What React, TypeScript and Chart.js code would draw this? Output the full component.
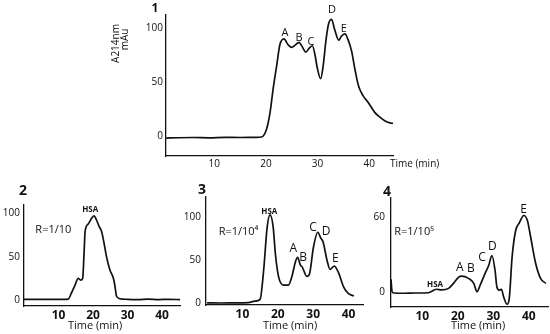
import React, { useEffect, useRef } from 'react';
import { Chart, registerables } from 'chart.js';
Chart.register(...registerables);

// ---- Panel 1 (full sample) ----
const X1 = [0.7, 3, 6, 9, 12, 15, 18, 19.2, 20.1, 20.8, 21.4, 22.1, 22.7, 23.5, 24.3, 25.0, 25.6, 26.4, 27.1, 27.7, 28.4, 29.0, 29.5, 29.9, 30.6, 31.1, 31.6, 32.1, 32.7, 33.3, 34.1, 34.6, 35.3, 35.9, 36.6, 37.2, 37.9, 38.8, 39.8, 41.1, 42, 43, 44, 44.6];
const Y1 = [-1.5, -1.2, -1.0, -1.3, -0.9, -1.0, -0.8, -0.5, 6.3, 21.9, 43.8, 65.6, 84.3, 89.7, 84.3, 81.9, 83.8, 86.6, 81.9, 77.5, 81.3, 83.4, 75, 64.1, 53.1, 65.6, 87.5, 103, 107.8, 98.4, 88.5, 92.2, 94.4, 89, 78.2, 62.5, 46.9, 37.5, 31.3, 21.9, 18, 14.5, 12.5, 12];

// ---- Panel 2 (R=1/10) ----
const X2 = [0, 4, 8, 12, 12.8, 13.7, 14.8, 15.7, 16.4, 17.0, 17.4, 17.7, 18.6, 19.6, 20.3, 21.0, 21.8, 22.5, 23.2, 23.9, 24.9, 25.9, 26.3, 26.8, 27.8, 30, 33, 36, 39, 42, 45.2];
const Y2 = [0.8, 0.8, 0.8, 0.8, 1, 7.7, 17.3, 25, 23, 25, 54, 79, 87.7, 94.2, 97, 92.3, 84.6, 78.8, 65.4, 50, 34.6, 25, 17.3, 4.6, 1.5, 0.8, 0.5, 1, 0.5, 0.8, 0.5];

// ---- Panel 3 (R=1/10^4) ----
const X3 = [0, 4, 8, 11.7, 13.5, 15, 16, 17, 17.8, 18.7, 19.3, 20.2, 21.6, 23, 24, 25.0, 25.6, 26.4, 26.9, 28.2, 28.9, 30.1, 31.3, 32.2, 32.8, 33.9, 34.8, 35.6, 36, 37.2, 38.6, 40, 41.5];
const Y3 = [0.5, 0.3, 0.5, 0.8, 2.5, 4.6, 38, 88, 102, 88, 58, 31, 21, 21, 31, 48, 53, 44, 42, 31, 33, 65, 82, 75, 71, 50, 39, 42, 43, 35, 19, 11, 8.5];

// ---- Panel 4 (R=1/10^5) ----
const X4 = [1.2, 1.5, 2.0, 5, 8, 11.7, 14, 15.5, 17.4, 18.8, 20.2, 21.1, 23, 24.5, 25.4, 26.3, 27.7, 28.7, 29.6, 30.5, 31, 31.7, 32.3, 32.9, 33.9, 34.5, 35.3, 36.3, 37.3, 38.6, 39.6, 40.5, 41.9, 43.3, 44.8];
const Y4 = [10, 0, -1, -1.2, -1, -0.8, 2, 1.5, 2.7, 6.7, 11.5, 12.5, 10.7, 6.7, 0, 5.3, 14.7, 21, 29, 17, 4, 1.3, 2, -4, -10, -5.3, 28, 49, 55, 61, 57, 44, 23, 10.7, 6.7];

const X_TICKS = [10, 20, 30, 40];
const Y_TICKS_1 = [0, 50, 100];
const Y_TICKS_2 = [0, 50, 100];
const Y_TICKS_3 = [0, 50, 100];
const Y_TICKS_4 = [0, 60];

const TXT = "'Open Sans', sans-serif";
const NUM = "'Liberation Sans Narrow', 'Open Sans', sans-serif";

type Note = { t: string; x: number; y: number; font: string; rot?: number; align?: CanvasTextAlign };

const NOTES_1: Note[] = [
  { t: '1', x: -1.5, y: 117.3, font: `bold 12px ${TXT}` },
  { t: 'A214nm', x: -8.9, y: 85.5, font: `10px ${TXT}`, rot: -Math.PI / 2 },
  { t: 'mAu', x: -7.2, y: 89.3, font: `10px ${TXT}`, rot: -Math.PI / 2 },
  { t: 'A', x: 23.7, y: 94.9, font: `11px ${TXT}` },
  { t: 'B', x: 26.4, y: 91.1, font: `11px ${TXT}` },
  { t: 'C', x: 28.7, y: 87.4, font: `11px ${TXT}` },
  { t: 'D', x: 32.8, y: 116.3, font: `11px ${TXT}` },
  { t: 'E', x: 35.1, y: 98.6, font: `11px ${TXT}` },
  { t: 'Time (min)', x: 44.0, y: -25.5, font: `10px ${TXT}`, align: 'left' },
];
const NOTES_2: Note[] = [
  { t: '2', x: -0.3, y: 125.7, font: `bold 14px ${TXT}` },
  { t: 'R=1/10', x: 8.5, y: 80.7, font: `11px ${TXT}` },
  { t: 'HSA', x: 19.2, y: 103.8, font: `bold 8px ${TXT}` },
  { t: 'Time (min)', x: 20.6, y: -30, font: `11px ${TXT}` },
];
const NOTES_3: Note[] = [
  { t: '3', x: -1.4, y: 130.8, font: `bold 14px ${TXT}` },
  { t: 'R=1/10⁴', x: 8.9, y: 82.3, font: `11px ${TXT}` },
  { t: 'HSA', x: 17.6, y: 105.4, font: `bold 8px ${TXT}` },
  { t: 'A', x: 24.4, y: 62.7, font: `12px ${TXT}` },
  { t: 'B', x: 27.2, y: 52.3, font: `12px ${TXT}` },
  { t: 'C', x: 30.0, y: 87.0, font: `12px ${TXT}` },
  { t: 'D', x: 33.7, y: 82.3, font: `12px ${TXT}` },
  { t: 'E', x: 36.3, y: 51.2, font: `12px ${TXT}` },
  { t: 'Time (min)', x: 23.5, y: -26.2, font: `11px ${TXT}` },
];
const NOTES_4: Note[] = [
  { t: '4', x: 0.1, y: 79.8, font: `bold 14px ${TXT}` },
  { t: 'R=1/10⁵', x: 7.7, y: 47.8, font: `11px ${TXT}` },
  { t: 'HSA', x: 13.6, y: 5.4, font: `bold 8px ${TXT}` },
  { t: 'A', x: 20.6, y: 19, font: `12px ${TXT}` },
  { t: 'B', x: 23.7, y: 18.2, font: `12px ${TXT}` },
  { t: 'C', x: 26.8, y: 27, font: `12px ${TXT}` },
  { t: 'D', x: 29.7, y: 35.8, font: `12px ${TXT}` },
  { t: 'E', x: 38.5, y: 65.4, font: `12px ${TXT}` },
  { t: 'Time (min)', x: 25.7, y: -27.4, font: `11px ${TXT}` },
];

function makeNotes(notes: Note[]) {
  return {
    id: 'notes',
    afterDraw(chart: any) {
      const ctx = chart.ctx as CanvasRenderingContext2D;
      const xs = chart.scales.x, ys = chart.scales.y;
      ctx.save();
      ctx.fillStyle = '#111';
      ctx.textBaseline = 'middle';
      for (const n of notes) {
        const px = xs.getPixelForValue(n.x), py = ys.getPixelForValue(n.y);
        ctx.font = n.font;
        ctx.textAlign = n.align || 'center';
        if (n.rot) {
          ctx.save(); ctx.translate(px, py); ctx.rotate(n.rot); ctx.fillText(n.t, 0, 0); ctx.restore();
        } else ctx.fillText(n.t, px, py);
      }
      ctx.restore();
    },
  };
}

type PanelProps = {
  left: number; top: number; width: number; height: number;
  padTop: number; padRight: number; yW: number; xH: number;
  xMin: number; xMax: number; yMin: number; yMax: number;
  xs: number[]; ys: number[]; yTicks: number[];
  xFont: any; yFont: any; xPad: number; yPad: number; notes: Note[];
};

function Panel(p: PanelProps) {
  const ref = useRef<HTMLCanvasElement>(null);
  useEffect(() => {
    if (!ref.current) return;
    const chart = new Chart(ref.current, {
      type: 'line',
      data: {
        datasets: [{
          data: p.xs.map((x, i) => ({ x, y: p.ys[i] })),
          borderColor: '#111', borderWidth: 1.7, pointRadius: 0,
          cubicInterpolationMode: 'monotone', fill: false,
        }],
      },
      options: {
        responsive: false, animation: false, devicePixelRatio: 1,
        layout: { padding: { top: p.padTop, right: p.padRight, left: 0, bottom: 0 } },
        plugins: { legend: { display: false }, tooltip: { enabled: false } },
        events: [],
        scales: {
          x: {
            type: 'linear', min: p.xMin, max: p.xMax,
            grid: { display: false, drawTicks: false },
            border: { display: true, color: '#111', width: 1.3 },
            ticks: { color: '#111', font: p.xFont, padding: p.xPad, maxRotation: 0, autoSkip: false },
            afterBuildTicks: (s: any) => { s.ticks = X_TICKS.map(v => ({ value: v })); },
            afterFit: (s: any) => { s.height = p.xH; },
          },
          y: {
            type: 'linear', min: p.yMin, max: p.yMax,
            grid: { display: false, drawTicks: false },
            border: { display: true, color: '#111', width: 1.3 },
            ticks: { color: '#111', font: p.yFont, padding: p.yPad, autoSkip: false },
            afterBuildTicks: (s: any) => { s.ticks = p.yTicks.map(v => ({ value: v })); },
            afterFit: (s: any) => { s.width = p.yW; },
          },
        },
      } as any,
      plugins: [makeNotes(p.notes)],
    });
    return () => chart.destroy();
  }, []);
  return (
    <canvas ref={ref} width={p.width} height={p.height}
      style={{ position: 'absolute', left: p.left, top: p.top, width: p.width, height: p.height }} />
  );
}

export default function App() {
  const smallNum = { family: NUM, size: 10 };
  const boldNum = { family: NUM, size: 12, weight: 'bold' };
  return (
    <div style={{ position: 'absolute', left: 0, top: 0, width: 550, height: 334, background: '#fff', overflow: 'hidden' }}>
      <Panel left={100} top={0} width={350} height={175} padTop={15} padRight={57} yW={66} xH={19}
        xMin={0.66} xMax={44.6} yMin={-18} yMax={111.7} xs={X1} ys={Y1} yTicks={Y_TICKS_1}
        xFont={smallNum} yFont={smallNum} xPad={2} yPad={3} notes={NOTES_1} />
      <Panel left={0} top={175} width={190} height={159} padTop={30} padRight={10} yW={24} xH={28}
        xMin={0} xMax={45.2} yMin={-6.9} yMax={109.6} xs={X2} ys={Y2} yTicks={Y_TICKS_2}
        xFont={boldNum} yFont={smallNum} xPad={2} yPad={4} notes={NOTES_2} />
      <Panel left={182} top={175} width={190} height={159} padTop={22} padRight={9} yW={24} xH={29}
        xMin={-0.3} xMax={44.1} yMin={-2} yMax={122.7} xs={X3} ys={Y3} yTicks={Y_TICKS_3}
        xFont={boldNum} yFont={smallNum} xPad={2} yPad={5} notes={NOTES_3} />
      <Panel left={367} top={175} width={183} height={159} padTop={23} padRight={2} yW={24} xH={27}
        xMin={1.2} xMax={45.4} yMin={-12.2} yMax={75} xs={X4} ys={Y4} yTicks={Y_TICKS_4}
        xFont={boldNum} yFont={smallNum} xPad={2} yPad={6} notes={NOTES_4} />
    </div>
  );
}
